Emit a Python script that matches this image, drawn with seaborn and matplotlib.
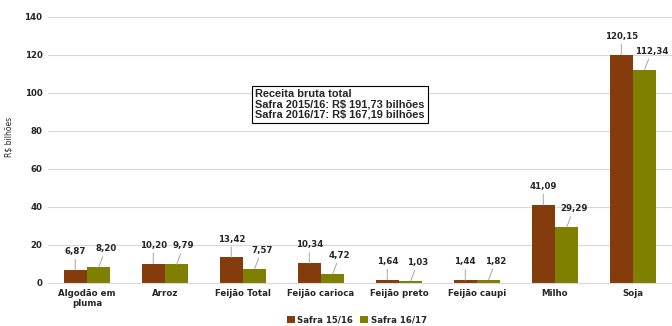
import pandas as pd
import matplotlib.pyplot as plt
import seaborn as sns

categorias = ['Algodão em\npluma', 'Arroz', 'Feijão Total', 'Feijão carioca',
              'Feijão preto', 'Feijão caupi', 'Milho', 'Soja']
safra_15_16 = [6.87, 10.20, 13.42, 10.34, 1.64, 1.44, 41.09, 120.15]
safra_16_17 = [8.20, 9.79, 7.57, 4.72, 1.03, 1.82, 29.29, 112.34]
series = ['Safra 15/16', 'Safra 16/17']
cores = ['#843C0C', '#7F7F00']

df = pd.DataFrame({
    'Produto': categorias * 2,
    'Valor': safra_15_16 + safra_16_17,
    'Safra': [series[0]] * len(categorias) + [series[1]] * len(categorias),
})

sns.set_style('white')
plt.rcParams['font.family'] = ['DejaVu Sans']

fig = plt.figure(figsize=(6.72, 3.26), dpi=100)
ax = fig.add_axes([0.0714, 0.132, 0.9286, 0.816])

sns.barplot(data=df, x='Produto', y='Valor', hue='Safra', palette=cores,
            width=0.6, gap=0, saturation=1, linewidth=0, ax=ax, legend=True)

ax.set_ylim(0, 140)
ax.set_xlim(-0.5, 7.5)
ax.set_yticks(range(0, 141, 20))
ax.yaxis.grid(True, color='#d9d9d9', linewidth=0.8)
ax.set_axisbelow(True)
for s in ['top', 'right', 'left']:
    ax.spines[s].set_visible(False)
ax.spines['bottom'].set_color('#d9d9d9')
ax.tick_params(axis='both', length=0, labelsize=6.2, pad=4)
for lbl in ax.get_xticklabels() + ax.get_yticklabels():
    lbl.set_fontweight('bold')
ax.set_xlabel('')
ax.set_ylabel('R$ bilhões', fontsize=5.5, family='Liberation Sans Narrow')
ax.yaxis.set_label_coords(-0.056, 0.55)

# rótulos com linha de ligação
for i, cont in enumerate(ax.containers):
    for bar in cont:
        h = bar.get_height()
        x = bar.get_x() + bar.get_width() / 2
        dx = 0 if i == 0 else 5
        ax.annotate(f'{h:.2f}'.replace('.', ','), xy=(x, h),
                    xytext=(dx, 10), textcoords='offset points',
                    ha='center', va='bottom', fontsize=6.2, fontweight='bold',
                    arrowprops=dict(arrowstyle='-', color='#a6a6a6', lw=0.7,
                                    shrinkA=0, shrinkB=0))

ax.text(0.332, 0.728,
        'Receita bruta total\nSafra 2015/16: R$ 191,73 bilhões\nSafra 2016/17: R$ 167,19 bilhões',
        transform=ax.transAxes, ha='left', va='top', fontsize=7.9,
        fontweight='bold', family='Liberation Sans', linespacing=1.0,
        bbox=dict(boxstyle='square,pad=0.3', fc='white', ec='black', lw=0.8))

leg = ax.legend(loc='center', bbox_to_anchor=(0.495, -0.14), ncol=2,
                frameon=False, fontsize=6.2, handlelength=0.9, handleheight=0.9,
                columnspacing=0.8, handletextpad=0.3)
for t in leg.get_texts():
    t.set_fontweight('bold')

fig.savefig('out.png', dpi=100)
